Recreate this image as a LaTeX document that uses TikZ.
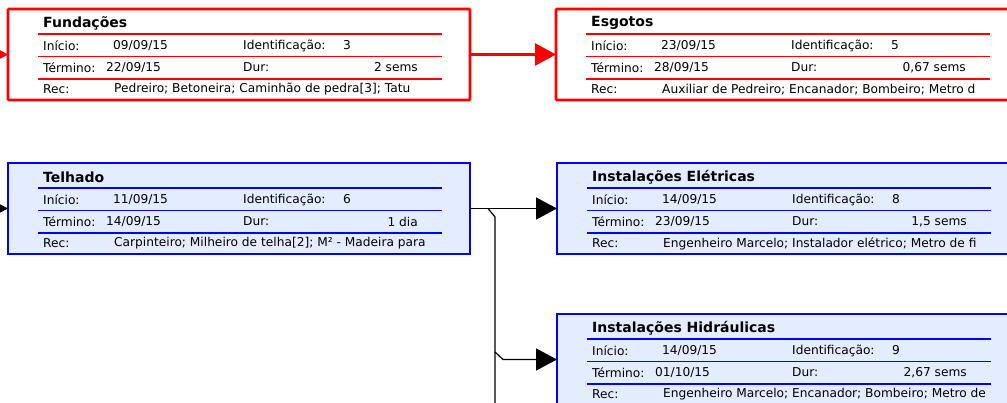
\documentclass[tikz,border=0pt]{standalone}
\usepackage{fontspec}
\setmainfont{DejaVu Sans}
\usetikzlibrary{positioning,arrows.meta}
\definecolor{azul}{RGB}{0,0,255}
\definecolor{azulfundo}{RGB}{228,236,255}

% caixa de tarefa: nome, cor, titulo, inicio, id, termino, dur, rec
\newcommand{\tarefa}[8]{%
  \draw[#2, line width=1.6pt]
    ([shift={(30,25)}]#1.north west) -- ++(404,0)
    ([shift={(30,47.5)}]#1.north west) -- ++(404,0)
    ([shift={(30,70)}]#1.north west) -- ++(404,0);
  \node[titulo] at ([shift={(35,14)}]#1.north west) {#3};
  \node[campo] at ([shift={(35,36.5)}]#1.north west) {Início:};
  \node[campo] at ([shift={(105,36.5)}]#1.north west) {#4};
  \node[campo] at ([shift={(235,36.5)}]#1.north west) {Identificação:};
  \node[campo] at ([shift={(335,36.5)}]#1.north west) {#5};
  \node[campo] at ([shift={(35,58.5)}]#1.north west) {Término:};
  \node[campo] at ([shift={(98,58.5)}]#1.north west) {#6};
  \node[campo] at ([shift={(235,58.5)}]#1.north west) {Dur:};
  \node[campo, anchor=east] at ([shift={(410,58.5)}]#1.north west) {#7};
  \node[campo] at ([shift={(35,80.5)}]#1.north west) {Rec:};
  \node[campo] at ([shift={(106,80.5)}]#1.north west) {#8};
}

\begin{document}
\begin{tikzpicture}[x=1pt, y=-1pt,
  tarefa/.style={rectangle, minimum width=462pt, minimum height=91pt,
    inner sep=0pt, outer sep=0pt},
  larga/.style={minimum width=500pt},
  critica/.style={tarefa, draw=red, line width=2.6pt, fill=white, rounded corners=1pt},
  normal/.style={tarefa, draw=azul, line width=1.8pt, fill=azulfundo},
  titulo/.style={anchor=west, inner sep=0pt, font=\fontsize{14}{16}\selectfont\bfseries},
  campo/.style={anchor=west, inner sep=0pt, font=\fontsize{12.2}{14}\selectfont},
  seta/.style={-{Triangle[length=21pt, width=22pt]}},
  ligred/.style={seta, red, line width=2.6pt},
  ligpreta/.style={seta, black, line width=1.2pt},
  linha/.style={black, line width=1.2pt}]
 \useasboundingbox (0,0) rectangle (1007,403);

 \node[critica] (fund) at (239,54.5) {};
 \node[critica, larga, right=86pt of fund] (esg) {};
 \node[normal, below=63pt of fund] (telh) {};
 \node[normal, larga, right=87pt of telh] (elet) {};
 \node[normal, larga, below=60pt of elet] (hidr) {};

 \tarefa{fund}{red}{Fundações}{09/09/15}{3}{22/09/15}{2 sems}{Pedreiro; Betoneira; Caminhão de pedra[3]; Tatu}
 \tarefa{esg}{red}{Esgotos}{23/09/15}{5}{28/09/15}{0,67 sems}{Auxiliar de Pedreiro; Encanador; Bombeiro; Metro d}
 \tarefa{telh}{azul}{Telhado}{11/09/15}{6}{14/09/15}{1 dia}{Carpinteiro; Milheiro de telha[2]; M² - Madeira para}
 \tarefa{elet}{azul}{Instalações Elétricas}{14/09/15}{8}{23/09/15}{1,5 sems}{Engenheiro Marcelo; Instalador elétrico; Metro de fi}
 \tarefa{hidr}{azul}{Instalações Hidráulicas}{14/09/15}{9}{01/10/15}{2,67 sems}{Engenheiro Marcelo; Encanador; Bombeiro; Metro de}

 \coordinate (in1) at ([xshift=-14pt]fund.west);
 \coordinate (in2) at ([xshift=-14pt]telh.west);
 \coordinate (j1) at ([xshift=18pt]telh.east);
 \coordinate (v1) at ([shift={(25,8.5)}]telh.east);
 \coordinate (v2) at (495,420);
 \coordinate (k1) at (495,352);
 \coordinate (k2) at (503,359.5);

 \draw[ligred] (in1) -- (fund);
 \draw[ligred] (fund) -- (esg);
 \draw[ligpreta] (in2) -- (telh);
 \draw[ligpreta] (telh) -- (elet);
 \draw[linha] (j1) -- (v1) -- (v2);
 \draw[ligpreta] (k1) -- (k2) -- (hidr);
\end{tikzpicture}
\end{document}
